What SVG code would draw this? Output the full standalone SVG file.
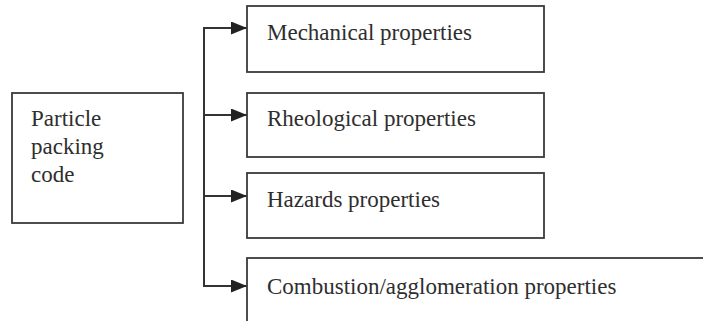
<svg xmlns="http://www.w3.org/2000/svg" width="703" height="321" viewBox="0 0 703 321">
<defs>
<style>
.box{fill:#fff;stroke:#3a3a3a;stroke-width:1.8}
.t{font-family:"Liberation Serif","Times New Roman",serif;font-size:23px;fill:#2e2e2e}
.c{fill:none;stroke:#333;stroke-width:2}
</style>
<marker id="ah" markerWidth="16" markerHeight="13" refX="16" refY="6.5" orient="auto" markerUnits="userSpaceOnUse">
<path d="M0,0 L16,6.5 L0,13 Z" fill="#222"/>
</marker>
</defs>
<rect width="703" height="321" fill="#fff"/>
<g id="connectors">
<path class="c" d="M204,28 V286"/>
<path class="c" d="M203,28 H247" marker-end="url(#ah)"/>
<path class="c" d="M204,115 H247" marker-end="url(#ah)"/>
<path class="c" d="M204,196 H247" marker-end="url(#ah)"/>
<path class="c" d="M203,286 H247" marker-end="url(#ah)"/>
</g>
<g id="source">
<rect class="box" x="12" y="93" width="171" height="130"/>
<text class="t" x="31" y="126">Particle</text>
<text class="t" x="31" y="154">packing</text>
<text class="t" x="31" y="182">code</text>
</g>
<g id="mechanical">
<rect class="box" x="247" y="6" width="297" height="66"/>
<text class="t" x="267" y="40">Mechanical properties</text>
</g>
<g id="rheological">
<rect class="box" x="247" y="93" width="297" height="64"/>
<text class="t" x="267" y="126">Rheological properties</text>
</g>
<g id="hazards">
<rect class="box" x="247" y="173" width="297" height="65"/>
<text class="t" x="267" y="207">Hazards properties</text>
</g>
<g id="combustion">
<rect class="box" x="247" y="258" width="470" height="80"/>
<text class="t" x="267" y="294">Combustion/agglomeration properties</text>
</g>
</svg>
